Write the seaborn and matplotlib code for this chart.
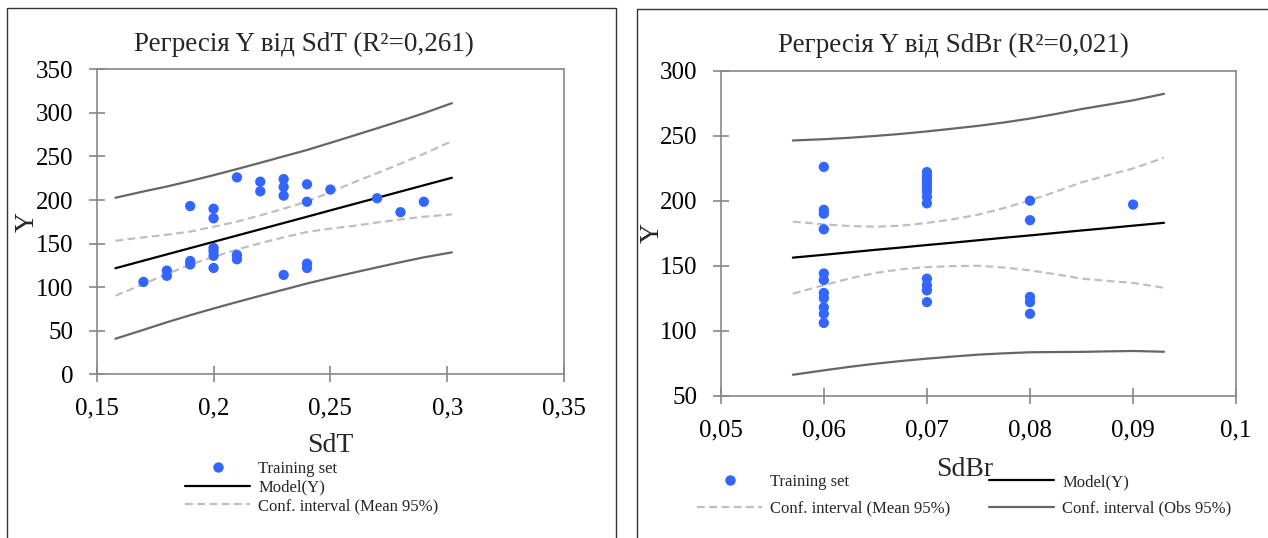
import matplotlib
matplotlib.use('Agg')
import matplotlib.pyplot as plt
import seaborn as sns
import pandas as pd
from matplotlib.patches import Rectangle
from matplotlib.lines import Line2D

# observations, left chart (Y vs SdT)
sdt = [0.17, 0.18, 0.18, 0.19, 0.19, 0.19, 0.2, 0.2, 0.2, 0.2, 0.2, 0.2,
       0.21, 0.21, 0.21, 0.22, 0.22, 0.23, 0.23, 0.23, 0.23,
       0.24, 0.24, 0.24, 0.24, 0.25, 0.27, 0.28, 0.29]
y_sdt = [106, 119, 113, 193, 130, 126, 190, 179, 145, 141, 136, 122,
         226, 137, 132, 221, 210, 224, 215, 205, 114,
         218, 198, 127, 122, 212, 202, 186, 198]

# observations, right chart (Y vs SdBr)
sdbr = [0.06, 0.06, 0.06, 0.06, 0.06, 0.06, 0.06, 0.06, 0.06, 0.06, 0.06,
        0.07, 0.07, 0.07, 0.07, 0.07, 0.07, 0.07, 0.07, 0.07, 0.07, 0.07, 0.07,
        0.08, 0.08, 0.08, 0.08, 0.08, 0.09]
y_sdbr = [226, 193, 190, 178, 144, 139, 129, 125, 118, 113, 106,
          222, 219, 216, 213, 210, 207, 203, 198, 140, 135, 131, 122,
          200, 185, 126, 122, 113, 197]

# model line and intervals
x_fit_sdt = [0.158, 0.17, 0.18, 0.19, 0.2, 0.21, 0.22, 0.23, 0.24, 0.25,
             0.26, 0.27, 0.28, 0.29, 0.302]
model_sdt = [121.7, 130.4, 137.6, 144.8, 152.0, 159.2, 166.4, 173.6, 180.8,
             188.1, 195.3, 202.5, 209.7, 216.9, 225.5]
mean_lo_sdt = [90.2, 103.6, 115.1, 125.8, 134.7, 143.2, 150.4, 157.2, 163.3,
               167.2, 170.3, 174.2, 177.7, 180.8, 183.5]
mean_hi_sdt = [153.2, 157.2, 160.1, 163.8, 169.3, 175.2, 182.4, 190.0, 198.3,
               209.0, 220.3, 230.8, 241.7, 253.0, 267.5]
obs_lo_sdt = [40.8, 51.0, 59.7, 67.8, 75.5, 82.9, 90.1, 97.1, 104.2, 110.6,
              116.7, 122.7, 128.6, 134.2, 139.9]
obs_hi_sdt = [202.6, 209.8, 215.5, 221.8, 228.5, 235.5, 242.7, 250.1, 257.4,
              265.6, 273.9, 282.3, 290.8, 299.6, 311.1]

# model line and intervals
x_fit_sdbr = [0.057, 0.06, 0.0625, 0.065, 0.0675, 0.07, 0.0725, 0.075,
              0.0775, 0.08, 0.0825, 0.085, 0.0875, 0.09, 0.093]
model_sdbr = [156.2, 158.4, 160.3, 162.2, 164.0, 165.9, 167.7, 169.6,
              171.5, 173.3, 175.2, 177.1, 178.9, 180.8, 183.0]
mean_lo_sdbr = [128.5, 135.0, 140.2, 144.4, 147.3, 148.9, 149.7, 149.9,
                148.6, 146.4, 143.4, 140.1, 138.3, 136.8, 133.0]
mean_hi_sdbr = [183.9, 181.8, 180.5, 180.0, 180.8, 182.9, 185.7, 189.3,
                194.4, 200.2, 206.9, 214.1, 219.5, 224.8, 233.0]
obs_lo_sdbr = [66.1, 69.5, 72.2, 74.6, 76.7, 78.5, 80.1, 81.6, 82.6,
               83.4, 83.6, 83.7, 84.1, 84.4, 83.8]
obs_hi_sdbr = [246.3, 247.3, 248.4, 249.8, 251.4, 253.3, 255.4, 257.6,
               260.2, 263.2, 266.7, 270.5, 273.8, 277.2, 282.2]

xticks_sdt = [0.15, 0.2, 0.25, 0.3, 0.35]
xlabels_sdt = ['0,15', '0,2', '0,25', '0,3', '0,35']
yticks_sdt = [0, 50, 100, 150, 200, 250, 300, 350]
xticks_sdbr = [0.05, 0.06, 0.07, 0.08, 0.09, 0.1]
xlabels_sdbr = ['0,05', '0,06', '0,07', '0,08', '0,09', '0,1']
yticks_sdbr = [50, 100, 150, 200, 250, 300]

sns.set_theme(style='white')
plt.rcParams['font.family'] = ['Liberation Serif', 'DejaVu Serif']

BLUE = '#3366FF'
OBS = '#666666'
MEAN = '#BFBFBF'
AXIS = '#888888'
DASH = (0, (3.5, 2))

fig = plt.figure(figsize=(12.68, 5.38), dpi=100)

# panel frames
fig.patches.append(Rectangle((7 / 1268, -0.1), 609 / 1268, 1.1 - 8 / 538,
                             transform=fig.transFigure, fill=False,
                             edgecolor='#333333', lw=1))
fig.patches.append(Rectangle((637 / 1268, -0.1), 1.0, 1.1 - 9 / 538,
                             transform=fig.transFigure, fill=False,
                             edgecolor='#333333', lw=1))

ax1 = fig.add_axes([0.0763, 0.3043, 0.3685, 0.5669])
ax2 = fig.add_axes([0.5684, 0.2645, 0.4065, 0.6041])


def draw_panel(ax, xp, yp, xf, model, mlo, mhi, olo, ohi):
    pts = pd.DataFrame({'x': xp, 'y': yp})
    fit = pd.DataFrame({'x': xf, 'model': model, 'mlo': mlo, 'mhi': mhi,
                        'olo': olo, 'ohi': ohi})
    for col in ['olo', 'ohi']:
        sns.lineplot(data=fit, x='x', y=col, ax=ax, color=OBS, lw=1.6,
                     estimator=None, sort=False)
    for col in ['mlo', 'mhi']:
        sns.lineplot(data=fit, x='x', y=col, ax=ax, color=MEAN, lw=1.6,
                     linestyle=DASH, estimator=None, sort=False)
    sns.lineplot(data=fit, x='x', y='model', ax=ax, color='black', lw=1.6,
                 estimator=None, sort=False)
    sns.scatterplot(data=pts, x='x', y='y', ax=ax, color=BLUE, s=55,
                    edgecolor='none', zorder=3)
    for sp in ax.spines.values():
        sp.set_visible(True)
        sp.set_color(AXIS)
        sp.set_linewidth(1.2)
    ax.tick_params(bottom=True, left=True, direction='inout', length=12,
                   width=1.2, color=AXIS, labelsize=18, labelcolor='black')
    ax.tick_params(axis='y', pad=11)
    ax.tick_params(axis='x', pad=11)
    ax.grid(False)


draw_panel(ax1, sdt, y_sdt, x_fit_sdt, model_sdt, mean_lo_sdt, mean_hi_sdt,
           obs_lo_sdt, obs_hi_sdt)
ax1.set_xlim(0.15, 0.35)
ax1.set_ylim(0, 350)
ax1.set_xticks(xticks_sdt)
ax1.set_xticklabels(xlabels_sdt)
ax1.set_yticks(yticks_sdt)
ax1.set_xlabel('SdT', fontsize=20, va='center')
ax1.set_ylabel('Y', fontsize=20, va='center')
ax1.xaxis.set_label_coords(0.5, -0.235)
ax1.yaxis.set_label_coords(-0.149, 0.5)
ax1.text(0.4436, 1.083, 'Регресія Y від SdT (R²=0,261)', transform=ax1.transAxes,
         ha='center', va='center', fontsize=19.5)

draw_panel(ax2, sdbr, y_sdbr, x_fit_sdbr, model_sdbr, mean_lo_sdbr,
           mean_hi_sdbr, obs_lo_sdbr, obs_hi_sdbr)
ax2.set_xlim(0.05, 0.1)
ax2.set_ylim(50, 300)
ax2.set_xticks(xticks_sdbr)
ax2.set_xticklabels(xlabels_sdbr)
ax2.set_yticks(yticks_sdbr)
ax2.set_xlabel('SdBr', fontsize=20, va='center')
ax2.set_ylabel('Y', fontsize=20, va='center')
ax2.xaxis.set_label_coords(0.474, -0.228)
ax2.yaxis.set_label_coords(-0.133, 0.5)
ax2.text(0.4516, 1.079, 'Регресія Y від SdBr (R²=0,021)', transform=ax2.transAxes,
         ha='center', va='center', fontsize=19.5)

# legends
h_pts = Line2D([], [], ls='none', marker='o', ms=7.5, color=BLUE, mec='none')
h_model = Line2D([], [], color='black', lw=1.6)
h_mean = Line2D([], [], color=MEAN, lw=1.6, ls=DASH)
h_obs = Line2D([], [], color=OBS, lw=1.6)

fig.legend([h_pts, h_model, h_mean],
           ['Training set', 'Model(Y)', 'Conf. interval (Mean 95%)'],
           loc='upper left', bbox_to_anchor=(185 / 1268, 1 - 461 / 538),
           frameon=False, fontsize=12, borderpad=0, borderaxespad=0,
           handlelength=3.9, handletextpad=0.5, labelspacing=0.15)
fig.legend([h_pts, h_mean, h_model, h_obs],
           ['Training set', 'Conf. interval (Mean 95%)', 'Model(Y)',
            'Conf. interval (Obs 95%)'],
           ncol=2, loc='upper left', bbox_to_anchor=(697 / 1268, 1 - 474 / 538),
           frameon=False, fontsize=12, borderpad=0, borderaxespad=0,
           handlelength=3.9, handletextpad=0.5, labelspacing=0.65,
           columnspacing=2.3)

fig.savefig('out.png', dpi=100)
